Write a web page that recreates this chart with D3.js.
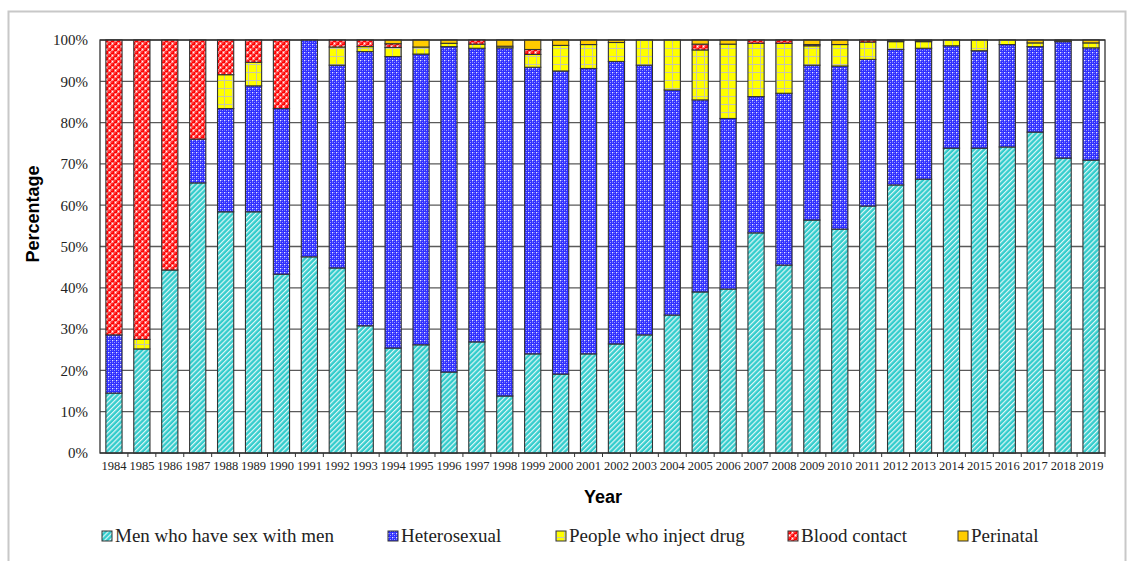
<!DOCTYPE html>
<html>
<head>
<meta charset="utf-8">
<title>Transmission</title>
<script src="https://d3js.org/d3.v7.min.js"></script>
<style>
  body { margin: 0; background: #fff; }
</style>
</head>
<body>
<div id="view"></div>
<script>
var years = d3.range(1984, 2020).map(String);
var seriesNames = ["Men who have sex with men", "Heterosexual", "People who inject drug", "Blood contact", "Perinatal"];
var msm =   [14.5, 25.2, 44.3, 65.4, 58.4, 58.4, 43.3, 47.5, 44.8, 30.8, 25.4, 26.2, 19.6, 26.9, 13.8, 24.0, 19.1, 24.0, 26.4, 28.6, 33.4, 39.0, 39.7, 53.3, 45.5, 56.4, 54.2, 59.8, 64.9, 66.3, 73.8, 73.8, 74.1, 77.7, 71.4, 70.9];
var hetero = [14.1, 0, 0, 10.6, 25.0, 30.5, 40.1, 52.5, 49.1, 66.4, 70.6, 70.4, 78.8, 71.1, 84.3, 69.4, 73.4, 69.1, 68.4, 65.3, 54.5, 46.5, 41.3, 33.0, 41.6, 37.5, 39.5, 35.5, 32.8, 31.7, 24.8, 23.6, 24.8, 20.7, 28.2, 27.2];
var idu =   [0, 2.3, 0, 0, 8.2, 5.7, 0, 0, 4.4, 1.2, 2.2, 1.7, 0.8, 1.0, 0.4, 3.1, 6.2, 5.8, 4.6, 6.1, 12.1, 12.1, 18.0, 12.9, 12.1, 4.7, 5.2, 4.2, 1.9, 1.6, 1.4, 2.6, 1.1, 0.9, 0.1, 1.2];
var blood = [71.4, 72.5, 55.7, 24.0, 8.4, 5.4, 16.6, 0, 1.7, 1.6, 0.9, 0, 0, 1.0, 0, 1.2, 0, 0, 0, 0, 0, 1.4, 0, 0.8, 0.8, 0.3, 0, 0.5, 0.2, 0.2, 0, 0, 0, 0, 0, 0];
var perinatal = [0, 0, 0, 0, 0, 0, 0, 0, 0, 0, 0.9, 1.7, 0.8, 0, 1.5, 2.3, 1.3, 1.1, 0.6, 0, 0, 1.0, 1.0, 0, 0, 1.1, 1.1, 0, 0.2, 0.2, 0, 0, 0, 0.7, 0.3, 0.7];
var yTicks = [0, 10, 20, 30, 40, 50, 60, 70, 80, 90, 100];

var width = 1130, height = 561;
var plotLeft = 100, plotRight = 1105, plotTop = 40, plotBottom = 453;

var svg = d3.select("#view").append("svg")
    .attr("width", width)
    .attr("height", height);

// patterns
var defs = svg.append("defs");

var p0 = defs.append("pattern").attr("id", "pMsm")
    .attr("patternUnits", "userSpaceOnUse")
    .attr("width", 3.6).attr("height", 3.6)
    .attr("patternTransform", "rotate(45)");
p0.append("rect").attr("width", 3.6).attr("height", 3.6).attr("fill", "#33cccc");
p0.append("rect").attr("width", 1.2).attr("height", 3.6).attr("fill", "#e0f8f8");

var p1 = defs.append("pattern").attr("id", "pHet")
    .attr("patternUnits", "userSpaceOnUse")
    .attr("width", 4).attr("height", 4);
p1.append("rect").attr("width", 4).attr("height", 4).attr("fill", "#2f2fff");
p1.append("rect").attr("x", 1).attr("y", 0).attr("width", 2).attr("height", 1).attr("fill", "#6a6aff");
p1.append("rect").attr("x", 0).attr("y", 1).attr("width", 1).attr("height", 2).attr("fill", "#6a6aff");
p1.append("rect").attr("x", 0).attr("y", 0).attr("width", 1).attr("height", 1).attr("fill", "#e8e8ff");
p1.append("rect").attr("x", 2).attr("y", 2).attr("width", 1).attr("height", 1).attr("fill", "#9a9aff");

var p2 = defs.append("pattern").attr("id", "pIdu")
    .attr("patternUnits", "userSpaceOnUse")
    .attr("width", 8).attr("height", 8);
p2.append("rect").attr("width", 8).attr("height", 8).attr("fill", "#ffff00");
p2.append("rect").attr("x", 0).attr("width", 1).attr("height", 8).attr("fill", "#c8c8a8");
p2.append("rect").attr("y", 0).attr("width", 8).attr("height", 1).attr("fill", "#c8c8a8");

var p3 = defs.append("pattern").attr("id", "pBlood")
    .attr("patternUnits", "userSpaceOnUse")
    .attr("width", 6).attr("height", 6);
p3.append("rect").attr("width", 6).attr("height", 6).attr("fill", "#ffffff");
[[1.5, 1.5], [4.5, 4.5], [4.5, -1.5], [-1.5, 4.5], [7.5, 1.5], [1.5, 7.5]].forEach(function (c) {
    p3.append("circle").attr("cx", c[0]).attr("cy", c[1]).attr("r", 2.1).attr("fill", "#ff0000");
    p3.append("circle").attr("cx", c[0] - 0.6).attr("cy", c[1] - 0.6).attr("r", 0.6).attr("fill", "#ffaaaa");
});

var fills = ["url(#pMsm)", "url(#pHet)", "url(#pIdu)", "url(#pBlood)", "#ffcc00"];

// outer frame
svg.append("rect")
    .attr("x", 8.5).attr("y", 11.5)
    .attr("width", 1117).attr("height", 570)
    .attr("fill", "none")
    .attr("stroke", "#c8c8c8")
    .attr("stroke-width", 2);

// data table
var table = years.map(function (y, i) {
    return { year: y, s0: msm[i], s1: hetero[i], s2: idu[i], s3: blood[i], s4: perinatal[i] };
});
var stack = d3.stack().keys(["s0", "s1", "s2", "s3", "s4"]).offset(d3.stackOffsetExpand);
var layers = stack(table);

var x = d3.scaleBand().domain(years).range([plotLeft, plotRight]).paddingInner(0.42).paddingOuter(0.21);
var y = d3.scaleLinear().domain([0, 1]).range([plotBottom, plotTop]);

// grid
svg.append("g").selectAll("line")
    .data(yTicks)
    .join("line")
    .attr("x1", plotLeft).attr("x2", plotRight)
    .attr("y1", function (d) { return y(d / 100); })
    .attr("y2", function (d) { return y(d / 100); })
    .attr("stroke", "#5a5a5a")
    .attr("stroke-width", 1.3);

// bars
svg.append("g").selectAll("g")
    .data(layers)
    .join("g")
    .attr("fill", function (d, i) { return fills[i]; })
    .selectAll("rect")
    .data(function (d) { return d.filter(function (v) { return v[1] - v[0] > 0; }); })
    .join("rect")
    .attr("x", function (d) { return x(d.data.year); })
    .attr("width", x.bandwidth())
    .attr("y", function (d) { return y(d[1]); })
    .attr("height", function (d) { return y(d[0]) - y(d[1]); })
    .attr("stroke", "#333")
    .attr("stroke-width", 1.1);

// plot frame
svg.append("rect")
    .attr("x", plotLeft).attr("y", plotTop)
    .attr("width", plotRight - plotLeft).attr("height", plotBottom - plotTop)
    .attr("fill", "none")
    .attr("stroke", "#333")
    .attr("stroke-width", 1.3);

// y axis
var yAxis = svg.append("g")
    .attr("transform", "translate(" + plotLeft + ",0)")
    .call(d3.axisLeft(y).tickValues(yTicks.map(function (d) { return d / 100; }))
        .tickFormat(d3.format(".0%")).tickSize(0).tickPadding(12));
yAxis.select(".domain").remove();
yAxis.selectAll("text")
    .attr("font-family", "Liberation Serif, Times New Roman, serif")
    .attr("font-size", 15)
    .attr("fill", "#222");

// x axis
var step = x.step();
var xAxis = svg.append("g")
    .attr("transform", "translate(0," + plotBottom + ")")
    .call(d3.axisBottom(x).tickSize(0).tickPadding(8));
xAxis.select(".domain").remove();
xAxis.selectAll("text")
    .attr("font-family", "Liberation Serif, Times New Roman, serif")
    .attr("font-size", 13)
    .attr("textLength", 25)
    .attr("lengthAdjust", "spacingAndGlyphs")
    .attr("fill", "#222");
xAxis.selectAll(".tick").append("line")
    .attr("x1", step / 2).attr("x2", step / 2)
    .attr("y1", 0).attr("y2", 4)
    .attr("stroke", "#333");

// axis titles
svg.append("text")
    .attr("transform", "translate(39,214) rotate(-90)")
    .attr("text-anchor", "middle")
    .attr("font-family", "Liberation Sans, Arial, sans-serif")
    .attr("font-weight", "bold")
    .attr("font-size", 18)
    .text("Percentage");

svg.append("text")
    .attr("x", 603).attr("y", 503)
    .attr("text-anchor", "middle")
    .attr("font-family", "Liberation Sans, Arial, sans-serif")
    .attr("font-weight", "bold")
    .attr("font-size", 18)
    .text("Year");

// legend
var legendX = [102, 388, 556, 788, 958];
var legend = svg.append("g").selectAll("g")
    .data(seriesNames)
    .join("g")
    .attr("transform", function (d, i) { return "translate(" + legendX[i] + ",537)"; });
legend.append("rect")
    .attr("x", 0).attr("y", -6)
    .attr("width", 10).attr("height", 10)
    .attr("fill", function (d, i) { return fills[i]; })
    .attr("stroke", "#333");
legend.append("text")
    .attr("x", 13).attr("y", 5)
    .attr("font-family", "Liberation Serif, Times New Roman, serif")
    .attr("font-size", 19)
    .attr("fill", "#222")
    .text(function (d) { return d; });
</script>
</body>
</html>
